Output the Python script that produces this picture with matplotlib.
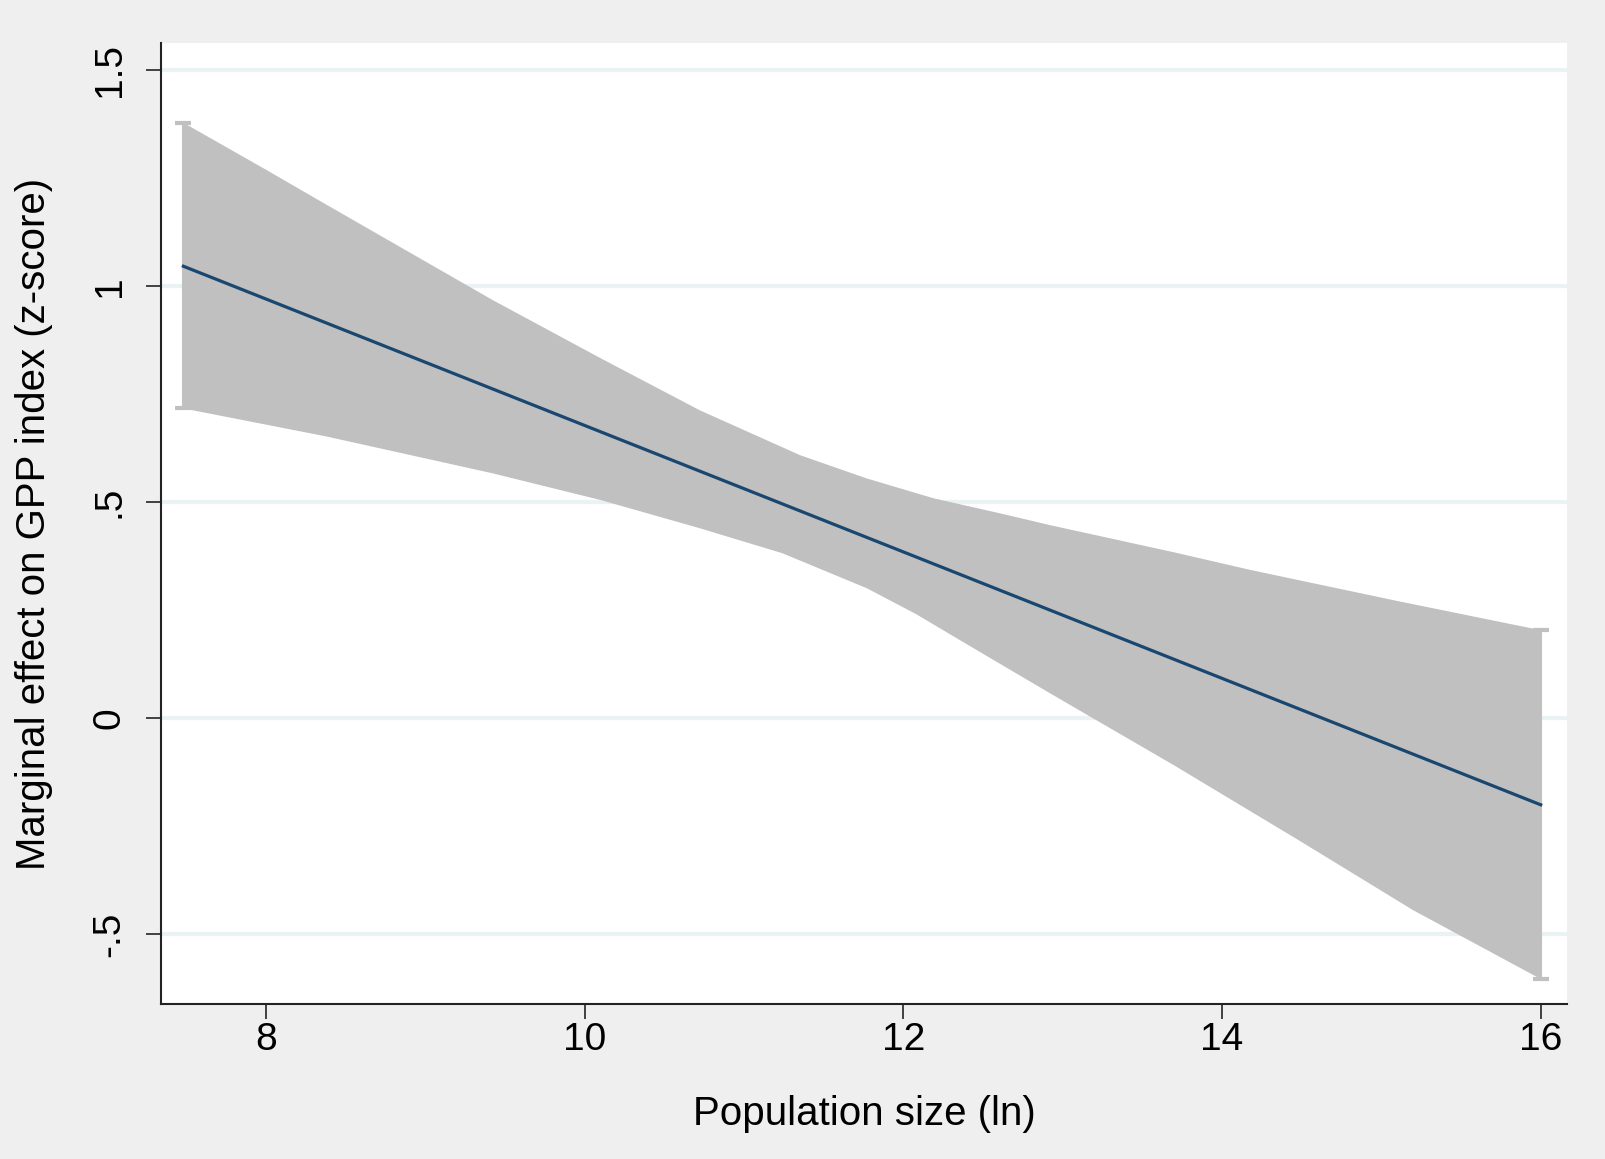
import numpy as np
import matplotlib
matplotlib.use("Agg")
import matplotlib.pyplot as plt

# values
upper_x = [7.48, 8.00, 8.38, 9.42, 10.10, 10.72, 11.35, 11.77, 12.19, 12.61,
           12.92, 13.70, 14.17, 14.49, 15.12, 16.00]
upper_y = [1.377, 1.268, 1.187, 0.967, 0.832, 0.712, 0.608, 0.554, 0.508, 0.473,
           0.446, 0.383, 0.343, 0.318, 0.269, 0.203]
lower_x = [7.48, 8.38, 9.42, 10.10, 10.72, 11.24, 11.77, 12.08, 12.40, 12.92,
           13.70, 14.49, 15.20, 16.00]
lower_y = [0.716, 0.651, 0.566, 0.504, 0.439, 0.381, 0.300, 0.240, 0.170, 0.057,
           -0.110, -0.285, -0.445, -0.604]
line_x = [7.48, 16.00]
line_y = [1.045, -0.201]

xticks = [8, 10, 12, 14, 16]
yticks = [-0.5, 0, 0.5, 1, 1.5]
ytick_labels = ["-.5", "0", ".5", "1", "1.5"]

plt.rcParams["font.family"] = ["Liberation Sans", "DejaVu Sans"]

fig = plt.figure(figsize=(16.06, 11.59), dpi=100)
fig.patch.set_facecolor("#efefef")
ax = fig.add_axes([0.1002, 0.1337, 0.8755, 0.8292])
ax.set_facecolor("white")

for yv in yticks:
    ax.axhline(yv, color="#eaf2f3", lw=3, zorder=0)

# confidence band
band_x = np.r_[upper_x, lower_x[::-1]]
band_y = np.r_[upper_y, lower_y[::-1]]
ax.fill(band_x, band_y, color="#c0c0c0", lw=0, zorder=1)

# end spikes with caps, as in the rcap plot
ex = [upper_x[0], upper_x[-1]]
elo = [lower_y[0], lower_y[-1]]
ehi = [upper_y[0], upper_y[-1]]
ax.vlines(ex, elo, ehi, color="#c0c0c0", lw=1.5, zorder=2)
for xv, lo, hi in zip(ex, elo, ehi):
    ax.plot([xv, xv], [lo, hi], ls="none", marker="_", ms=11, mew=3,
            color="#c0c0c0", zorder=2)

ax.plot(line_x, line_y, color="#1a476f", lw=2.3, zorder=3)

ax.set_xlim(7.339, 16.165)
ax.set_ylim(-0.662, 1.5615)

ax.spines["top"].set_visible(False)
ax.spines["right"].set_visible(False)
for s in ["left", "bottom"]:
    ax.spines[s].set_linewidth(1.5)
    ax.spines[s].set_color("#222222")

ax.set_xticks(xticks)
ax.set_xticklabels([str(v) for v in xticks])
ax.set_yticks(yticks)
ax.set_yticklabels(ytick_labels, rotation=90, va="center")
ax.tick_params(axis="both", length=11, width=1.3, color="#333333",
               labelsize=28, labelcolor="black")
ax.tick_params(axis="x", pad=2)
ax.tick_params(axis="y", pad=13)

ax.set_xlabel("Population size (ln)", fontsize=29)
ax.set_ylabel("Marginal effect on GPP index (z-score)", fontsize=29)
ax.xaxis.set_label_coords(0.5, -0.1145)
ax.xaxis.label.set_va("center")
ax.yaxis.set_label_coords(-0.0903, 0.5)
ax.yaxis.label.set_va("center")

fig.savefig("out.png", dpi=100, facecolor=fig.get_facecolor())
